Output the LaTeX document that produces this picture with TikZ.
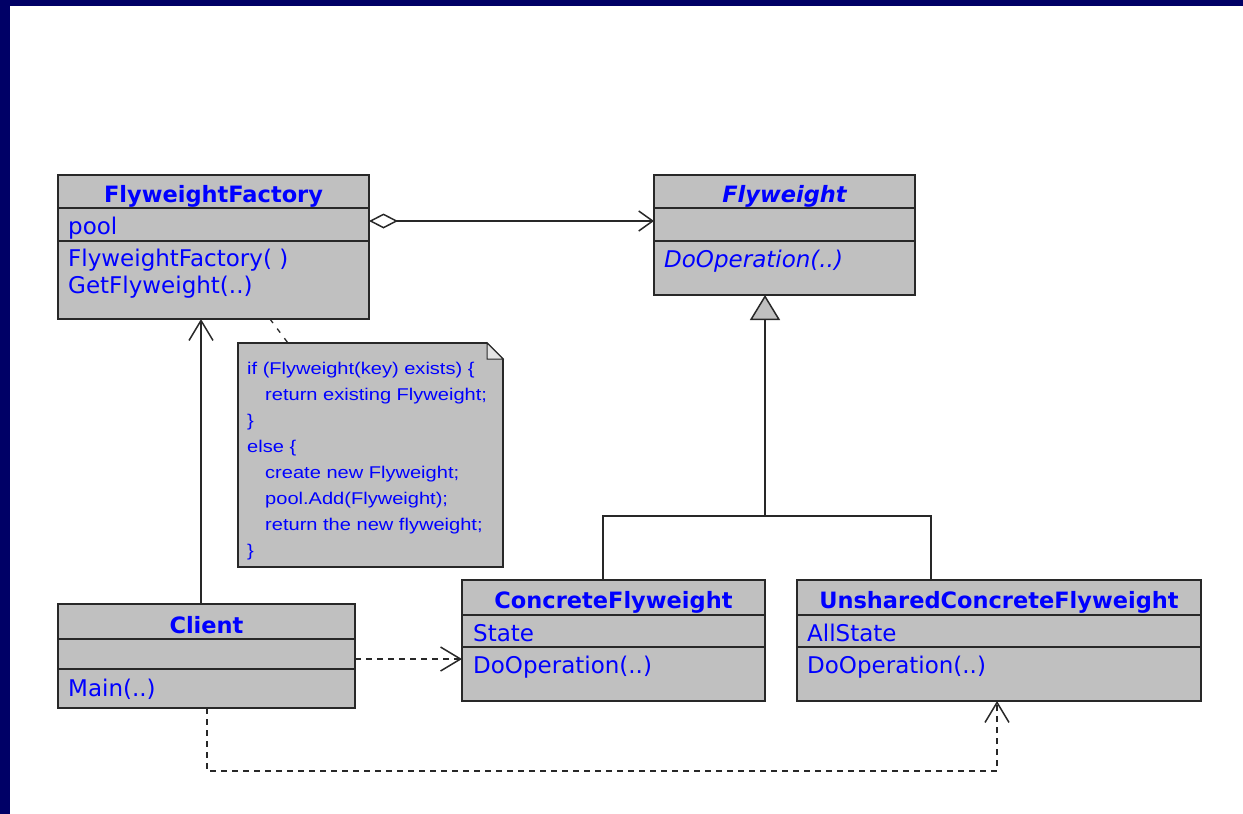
\documentclass[tikz,border=0pt]{standalone}
\usepackage{fontspec}
\setmainfont{DejaVu Sans}
\newfontfamily\notefont[FakeStretch=1.18]{Liberation Sans}
\usetikzlibrary{arrows.meta}
\definecolor{umlblue}{RGB}{0,0,255}
\definecolor{umlgray}{RGB}{192,192,192}
\definecolor{umlline}{RGB}{40,40,40}
\definecolor{framenavy}{RGB}{0,0,102}
\definecolor{foldgray}{RGB}{228,228,228}

\begin{document}
\begin{tikzpicture}[x=1pt,y=-1pt,
  classbox/.style={draw=umlline, fill=umlgray, line width=1.6pt, inner sep=0pt, outer sep=0pt, anchor=north west},
  divider/.style={draw=umlline, line width=1.6pt},
  hdr/.style={font=\fontsize{22.5}{26}\selectfont\bfseries, text=umlblue, inner sep=0pt, anchor=base},
  hdri/.style={hdr, font=\fontsize{22.5}{26}\selectfont\bfseries\itshape},
  member/.style={font=\fontsize{23}{26}\selectfont, text=umlblue, inner sep=0pt, anchor=base west},
  memberi/.style={member, font=\fontsize{23}{26}\selectfont\itshape},
  notetext/.style={font=\notefont\fontsize{17}{26}\selectfont, text=umlblue, inner sep=0pt, anchor=base west},
  conn/.style={draw=umlline, line width=1.5pt},
  dep/.style={conn, dash pattern=on 6pt off 5pt},
  barb/.style={-{Straight Barb[length=20pt, width=24pt]}}
]
% page, frame strips
\useasboundingbox (0,0) rectangle (1243,814);
\fill[white] (0,0) rectangle (1243,814);
\fill[framenavy] (0,0) rectangle (1243,6);
\fill[framenavy] (0,0) rectangle (10,814);

% ---------- FlyweightFactory ----------
\node[classbox, minimum width=311pt, minimum height=144pt] (ff) at (58,175) {};
\draw[divider] (58,208) -- (369,208);
\draw[divider] (58,241) -- (369,241);
\node[hdr] (ffname) at (213.5,202) {FlyweightFactory};
\node[member] (ffpool) at (68,234) {pool};
\node[member] (ffctor) at (68,266) {FlyweightFactory( )};
\node[member] (ffget) at (68,293) {GetFlyweight(..)};

% ---------- Flyweight ----------
\node[classbox, minimum width=261pt, minimum height=120pt] (fw) at (654,175) {};
\draw[divider] (654,208) -- (915,208);
\draw[divider] (654,241) -- (915,241);
\node[hdri] (fwname) at (784.5,202) {Flyweight};
\node[memberi] (fwop) at (664,267) {DoOperation(..)};

% ---------- Client ----------
\node[classbox, minimum width=297pt, minimum height=104pt] (cl) at (58,604) {};
\draw[divider] (58,639) -- (355,639);
\draw[divider] (58,669) -- (355,669);
\node[hdr] (clname) at (206.5,633) {Client};
\node[member] (clmain) at (68,696) {Main(..)};

% ---------- ConcreteFlyweight ----------
\node[classbox, minimum width=303pt, minimum height=121pt] (cf) at (462,580) {};
\draw[divider] (462,615) -- (765,615);
\draw[divider] (462,647) -- (765,647);
\node[hdr] (cfname) at (613.5,608) {ConcreteFlyweight};
\node[member] (cfstate) at (473,641) {State};
\node[member] (cfop) at (473,673) {DoOperation(..)};

% ---------- UnsharedConcreteFlyweight ----------
\node[classbox, minimum width=404pt, minimum height=121pt] (uf) at (797,580) {};
\draw[divider] (797,615) -- (1201,615);
\draw[divider] (797,647) -- (1201,647);
\node[hdr] (ufname) at (999,608) {UnsharedConcreteFlyweight};
\node[member] (ufstate) at (807,641) {AllState};
\node[member] (ufop) at (807,673) {DoOperation(..)};

% ---------- note attached to GetFlyweight ----------
\node[inner sep=0pt, outer sep=0pt, minimum width=265pt, minimum height=224pt, anchor=north west] (nt) at (238,343) {};
\filldraw[draw=umlline, fill=umlgray, line width=1.6pt]
  (nt.north west) -- (487,343) -- (503,359) -- (nt.south east |- 0,359) -- (nt.south east) -- (nt.south west) -- cycle;
\filldraw[draw=umlline, fill=foldgray, line width=1pt] (487,343) -- (487,359) -- (503,359) -- cycle;
\node[notetext] (nl1) at (247,374) {if (Flyweight(key) exists) \{};
\node[notetext] (nl2) at (265,400) {return existing Flyweight;};
\node[notetext] (nl3) at (247,426) {\}};
\node[notetext] (nl4) at (247,452) {else \{};
\node[notetext] (nl5) at (265,478) {create new Flyweight;};
\node[notetext] (nl6) at (265,504) {pool.Add(Flyweight);};
\node[notetext] (nl7) at (265,530) {return the new flyweight;};
\node[notetext] (nl8) at (247,556) {\}};

% ---------- connector end points ----------
\coordinate (aggFrom) at (369,221);
\coordinate (aggTo) at (654,221);
\coordinate (genTip) at (765,295);
\coordinate (genJoin) at (765,516);
\coordinate (cfTop) at (603,580);
\coordinate (ufTop) at (931,580);
\coordinate (clTop) at (201,604);
\coordinate (ffBottom) at (201,319);
\coordinate (clRight) at (355,659);
\coordinate (cfLeft) at (462,659);
\coordinate (clBottom) at (207,708);
\coordinate (depTurn) at (997,771);
\coordinate (ufBottom) at (997,701);
\coordinate (noteFrom) at (270,319);
\coordinate (noteTo) at (288,343);

% aggregation: factory holds its pool of flyweights
\draw[conn, {Diamond[fill=white, length=29pt, width=15pt]}-{Straight Barb[length=14pt, width=20pt]}] (aggFrom) -- (aggTo);

% generalization tree
\draw[conn] (cfTop) |- (genJoin) -| (ufTop);
\draw[conn, -{Triangle[fill=umlgray, length=25pt, width=30pt]}] (genJoin) -- (genTip);

% client associations and dependencies
\draw[conn, barb] (clTop) -- (ffBottom);
\draw[dep, barb] (clRight) -- (cfLeft);
\draw[dep, barb] (clBottom) |- (depTurn) -- (ufBottom);

% note anchor
\draw[conn, line width=1.3pt, dash pattern=on 5pt off 7pt] (noteFrom) -- (noteTo);
\end{tikzpicture}
\end{document}
